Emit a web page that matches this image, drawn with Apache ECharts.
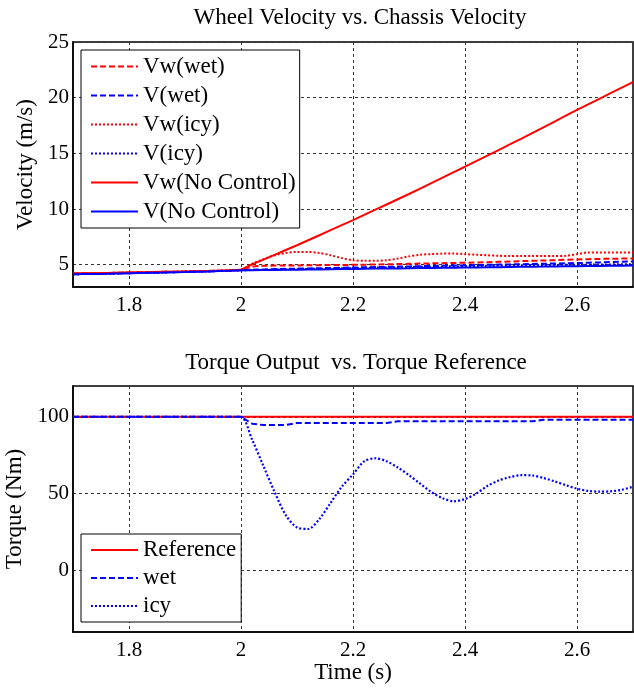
<!DOCTYPE html>
<html>
<head>
<meta charset="utf-8">
<script src="https://cdn.jsdelivr.net/npm/echarts@6/dist/echarts.min.js"></script>
<style>
html,body{margin:0;padding:0;background:#fff;}
#chart{width:634px;height:689px;}
</style>
</head>
<body>
<div id="chart"></div>
<script>
// ---- data ----
const time = [1.70,1.72,1.74,1.76,1.78,1.80,1.82,1.84,1.86,1.88,1.90,1.92,1.94,1.96,1.98,2.00,
  2.02,2.04,2.06,2.08,2.10,2.12,2.14,2.16,2.18,2.20,2.22,2.24,2.26,2.28,2.30,2.32,2.34,2.36,2.38,2.40,
  2.42,2.44,2.46,2.48,2.50,2.52,2.54,2.56,2.58,2.60,2.62,2.64,2.66,2.68,2.70];

// Velocity panel (m/s)
const vwWet = [4.22,4.23,4.24,4.26,4.28,4.30,4.32,4.34,4.36,4.38,4.40,4.42,4.44,4.47,4.50,4.55,
  4.85,4.90,4.92,4.93,4.94,4.95,4.96,4.97,4.98,4.99,5.00,5.02,5.04,5.06,5.08,5.10,5.12,5.14,5.16,5.18,
  5.20,5.23,5.26,5.29,5.32,5.35,5.38,5.41,5.44,5.47,5.50,5.52,5.54,5.55,5.56];
const vWet = [4.15,4.16,4.17,4.19,4.22,4.24,4.26,4.28,4.30,4.33,4.35,4.38,4.40,4.43,4.46,4.50,
  4.55,4.58,4.61,4.63,4.65,4.67,4.69,4.71,4.73,4.75,4.77,4.79,4.81,4.83,4.85,4.87,4.89,4.91,4.93,4.95,
  4.97,4.99,5.01,5.03,5.05,5.07,5.09,5.11,5.13,5.15,5.18,5.21,5.24,5.27,5.30];
const vwIcy = [4.22,4.23,4.24,4.26,4.28,4.30,4.32,4.34,4.36,4.38,4.40,4.42,4.44,4.47,4.50,4.55,
  5.10,5.50,5.85,6.05,6.15,6.15,6.05,5.85,5.60,5.40,5.35,5.35,5.40,5.55,5.75,5.90,5.95,6.00,6.00,5.95,
  5.90,5.85,5.80,5.78,5.78,5.78,5.78,5.78,5.80,5.95,6.10,6.10,6.10,6.10,6.10];
const vIcy = [4.15,4.16,4.17,4.19,4.22,4.24,4.26,4.28,4.30,4.33,4.35,4.38,4.40,4.43,4.46,4.50,
  4.52,4.54,4.56,4.58,4.60,4.62,4.64,4.66,4.68,4.70,4.72,4.74,4.76,4.78,4.80,4.82,4.83,4.85,4.86,4.88,
  4.89,4.91,4.92,4.94,4.95,4.96,4.97,4.98,4.99,5.00,5.01,5.02,5.03,5.04,5.05];
const vwNo = [4.22,4.23,4.24,4.26,4.28,4.30,4.32,4.34,4.36,4.38,4.40,4.42,4.44,4.47,4.50,4.55,
  5.03,5.46,5.89,6.32,6.75,7.20,7.65,8.10,8.55,9.00,9.47,9.94,10.41,10.88,11.35,11.84,12.33,12.82,13.31,13.80,
  14.30,14.80,15.30,15.80,16.30,16.82,17.34,17.86,18.38,18.90,19.40,19.90,20.40,20.90,21.40];
const vNo = [4.15,4.16,4.17,4.19,4.22,4.24,4.26,4.28,4.30,4.33,4.35,4.38,4.40,4.43,4.46,4.50,
  4.51,4.52,4.53,4.55,4.56,4.57,4.58,4.60,4.61,4.62,4.63,4.65,4.66,4.67,4.68,4.70,4.71,4.72,4.73,4.75,
  4.76,4.77,4.78,4.80,4.81,4.82,4.83,4.85,4.86,4.87,4.88,4.89,4.90,4.91,4.92];

// Torque panel (Nm)
const torqueRef = [100,100,100,100,100,100,100,100,100,100,100,100,100,100,100,100,
  100,100,100,100,100,100,100,100,100,100,100,100,100,100,100,100,100,100,100,100,
  100,100,100,100,100,100,100,100,100,100,100,100,100,100,100];
const torqueWet = [100,100,100,100,100,100,100,100,100,100,100,100,100,100,100,100,
  95.5,94.6,94.6,94.6,95.9,95.9,95.9,95.9,95.9,95.9,95.9,95.9,95.9,97,97,97,97,97,97,97,
  97,97,97,97,97,97,98,98,98,98,98,98,98,98,98];
const torqueIcy = [100,100,100,100,100,100,100,100,100,100,100,100,100,100,100,100,
  85,68,51,36,28,27,33.5,44,54.5,62.5,71,73,71,67,62,56.5,51,47,45,46.5,
  50,55,58.5,60.7,62,61.8,60.2,58,55.5,53.2,51.8,51.3,51.5,52.5,54.5];

const velTicks = [5,10,15,20,25];
const torqueTicks = [0,50,100];
const timeTicks = [1.8,2.0,2.2,2.4,2.6];

// ---- chart ----
const FONT = "'Liberation Serif','Times New Roman',serif";
const FS = 21;     // tick labels
const FL = 23;     // axis names, titles, legends
const RED = '#ff0000', BLUE = '#0000ff';
const DASH = [6,3], DOT = [2,2];
const pair = arr => time.map((t,i)=>[t, arr[i]]);
const T = 'rgba(0,0,0,0)', G = '#333';

function xAxisCfg(idx, withName){
  return {
    type:'value', gridIndex: idx, min:1.7, max:2.7, interval:0.1,
    axisLine:{show:true, onZero:false, lineStyle:{color:'#000', width:1.5}},
    axisTick:{show:false},
    axisLabel:{margin:8, color:'#000', fontFamily:FONT, fontSize:FS,
      formatter: v => { const k = Math.round(v*10)/10; return timeTicks.some(x=>Math.abs(x-k)<1e-6) ? String(k) : ''; }},
    splitLine:{show:true, lineStyle:{color:[T,G], width:1, type:[3,3]}},
    name: withName ? 'Time (s)' : '', nameLocation:'middle', nameGap:26,
    nameTextStyle:{color:'#000', fontFamily:FONT, fontSize:FL}
  };
}
const legendHide = {color:T, borderColor:T, borderWidth:0};

const option = {
  backgroundColor:'#fff',
  animation:false,
  grid:[
    {left:73, top:42, width:560, height:245, show:true, borderColor:'#000', borderWidth:1.5, outerBoundsMode:'none', containLabel:false},
    {left:73, top:386, width:560, height:246, show:true, borderColor:'#000', borderWidth:1.5, outerBoundsMode:'none', containLabel:false}
  ],
  xAxis:[ xAxisCfg(0,false), xAxisCfg(1,true) ],
  yAxis:[
    {type:'value', gridIndex:0, min:3, max:25, interval:1,
     axisLine:{show:true, lineStyle:{color:'#000', width:1.5}}, axisTick:{show:false},
     axisLabel:{margin:4, color:'#000', fontFamily:FONT, fontSize:FS,
       formatter: v => velTicks.includes(Math.round(v)) ? String(Math.round(v)) : ''},
     splitLine:{show:true, lineStyle:{color:[T,T,G,T,T], width:1, type:[3,3]}},
     name:'Velocity (m/s)', nameLocation:'middle', nameGap:32,
     nameTextStyle:{color:'#000', fontFamily:FONT, fontSize:FL}},
    {type:'value', gridIndex:1, min:-40, max:120, interval:10,
     axisLine:{show:true, lineStyle:{color:'#000', width:1.5}}, axisTick:{show:false},
     axisLabel:{margin:4, color:'#000', fontFamily:FONT, fontSize:FS,
       formatter: v => torqueTicks.includes(Math.round(v)) ? String(Math.round(v)) : ''},
     splitLine:{show:true, lineStyle:{color:[T,T,T,T,G], width:1, type:[3,3]}},
     name:'Torque (Nm)', nameLocation:'middle', nameGap:43,
     nameTextStyle:{color:'#000', fontFamily:FONT, fontSize:FL}}
  ],
  legend:[
    {data:['Vw(wet)','V(wet)','Vw(icy)','V(icy)','Vw(No Control)','V(No Control)'],
     orient:'vertical', left:81, top:50, itemWidth:47, itemHeight:14, itemGap:0,
     itemStyle:legendHide,
     padding:[2,4,2,9], backgroundColor:'#fff', borderColor:'#000', borderWidth:1,
     textStyle:{color:'#000', fontFamily:FONT, fontSize:FL, lineHeight:29}},
    {data:['Reference','wet','icy'],
     orient:'vertical', left:81, top:534, itemWidth:47, itemHeight:14, itemGap:0,
     itemStyle:legendHide,
     padding:[2,5,2,9], backgroundColor:'#fff', borderColor:'#000', borderWidth:1,
     textStyle:{color:'#000', fontFamily:FONT, fontSize:FL, lineHeight:28}}
  ],
  graphic:[
    {type:'text', x:360, y:18, style:{text:'Wheel Velocity vs. Chassis Velocity', fill:'#000',
      fontFamily:FONT, fontSize:FL, align:'center', verticalAlign:'middle'}},
    {type:'text', x:356, y:363, style:{text:'Torque Output  vs. Torque Reference', fill:'#000',
      fontFamily:FONT, fontSize:FL, align:'center', verticalAlign:'middle'}}
  ],
  series:[
    {name:'Vw(wet)', type:'line', xAxisIndex:0, yAxisIndex:0, data:pair(vwWet), showSymbol:false, symbol:'none', color:RED, lineStyle:{color:RED, width:2, type:DASH}},
    {name:'V(wet)', type:'line', xAxisIndex:0, yAxisIndex:0, data:pair(vWet), showSymbol:false, symbol:'none', color:BLUE, lineStyle:{color:BLUE, width:2, type:DASH}},
    {name:'Vw(icy)', type:'line', xAxisIndex:0, yAxisIndex:0, data:pair(vwIcy), showSymbol:false, symbol:'none', smooth:0.3, color:RED, lineStyle:{color:RED, width:2, type:DOT}},
    {name:'V(icy)', type:'line', xAxisIndex:0, yAxisIndex:0, data:pair(vIcy), showSymbol:false, symbol:'none', color:BLUE, lineStyle:{color:BLUE, width:2, type:DOT}},
    {name:'Vw(No Control)', type:'line', xAxisIndex:0, yAxisIndex:0, data:pair(vwNo), showSymbol:false, symbol:'none', color:RED, lineStyle:{color:RED, width:2}},
    {name:'V(No Control)', type:'line', xAxisIndex:0, yAxisIndex:0, data:pair(vNo), showSymbol:false, symbol:'none', color:BLUE, lineStyle:{color:BLUE, width:2}},
    {name:'Reference', type:'line', xAxisIndex:1, yAxisIndex:1, data:pair(torqueRef), showSymbol:false, symbol:'none', color:RED, lineStyle:{color:RED, width:2}},
    {name:'wet', type:'line', xAxisIndex:1, yAxisIndex:1, data:pair(torqueWet), showSymbol:false, symbol:'none', color:BLUE, lineStyle:{color:BLUE, width:2, type:DASH}},
    {name:'icy', type:'line', xAxisIndex:1, yAxisIndex:1, data:pair(torqueIcy), showSymbol:false, symbol:'none', smooth:0.3, color:BLUE, lineStyle:{color:BLUE, width:2.2, type:DOT}}
  ]
};
const chart = echarts.init(document.getElementById('chart'), null, {renderer:'canvas'});
chart.setOption(option);
</script>
</body>
</html>
